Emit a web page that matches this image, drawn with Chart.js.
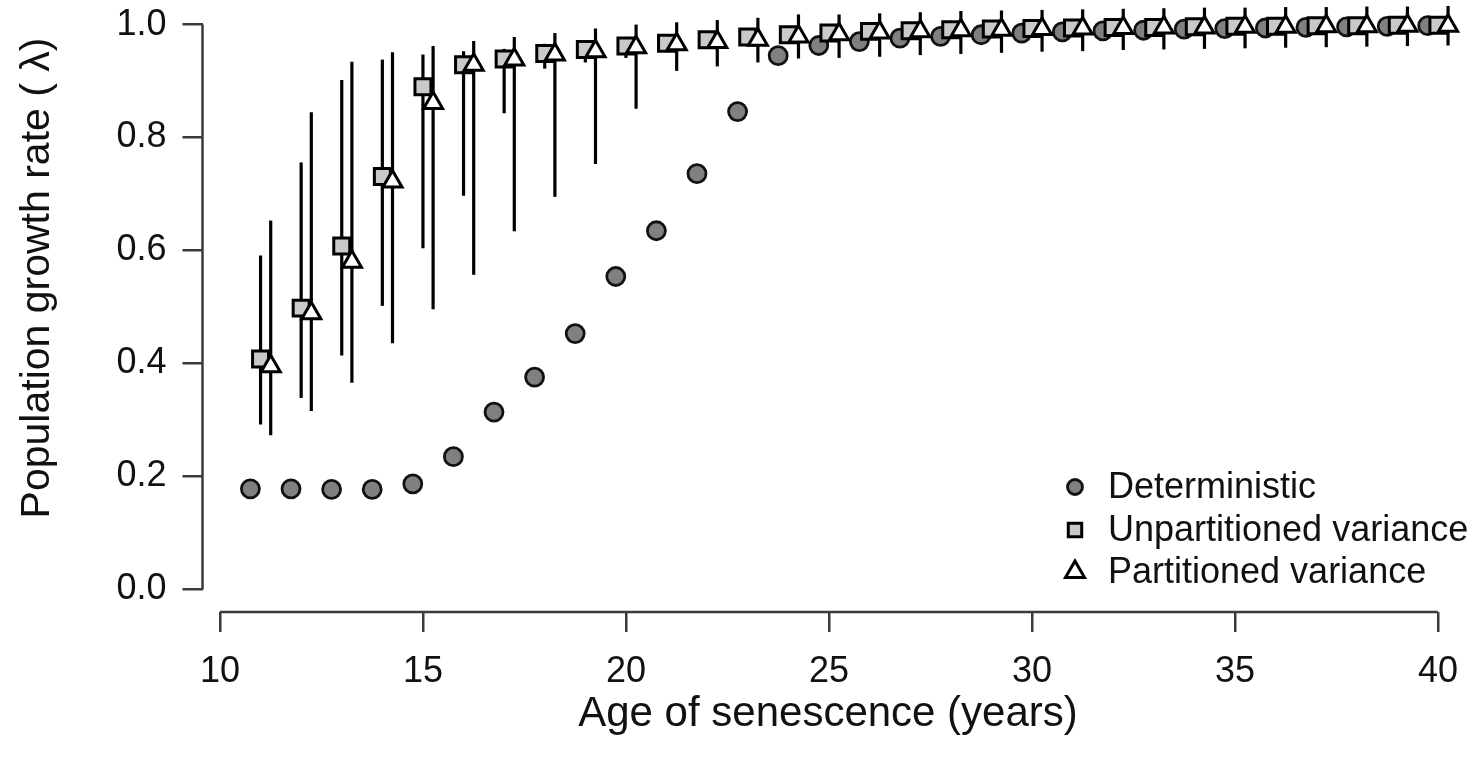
<!DOCTYPE html>
<html>
<head>
<meta charset="utf-8">
<script src="https://cdn.jsdelivr.net/npm/chart.js@4.4.1/dist/chart.umd.min.js"></script>
<style>
  html, body { margin: 0; padding: 0; background: #fff; }
  #wrap { width: 1472px; height: 759px; }
</style>
</head>
<body>
<div id="wrap"><canvas id="chart" width="1472" height="759"></canvas></div>
<script>
// age of senescence (years)
const ages = [11, 12, 13, 14, 15, 16, 17, 18, 19, 20, 21, 22, 23, 24, 25,
  26, 27, 28, 29, 30, 31, 32, 33, 34, 35, 36, 37, 38, 39, 40];

const deterministic = [0.178, 0.178, 0.177, 0.177, 0.187, 0.235, 0.314, 0.376, 0.453, 0.554,
  0.635, 0.736, 0.846, 0.945, 0.963, 0.970, 0.976, 0.979, 0.982, 0.985,
  0.987, 0.989, 0.990, 0.992, 0.993, 0.994, 0.995, 0.996, 0.997, 0.998];

const unpartitioned = [0.408, 0.498, 0.608, 0.731, 0.890, 0.929, 0.939, 0.949, 0.956, 0.962,
  0.967, 0.973, 0.978, 0.982, 0.985, 0.988, 0.989, 0.991, 0.992, 0.993,
  0.994, 0.995, 0.995, 0.996, 0.997, 0.997, 0.998, 0.998, 0.999, 0.999];
const unpartLow = [0.292, 0.339, 0.414, 0.502, 0.604, 0.697, 0.843, 0.922, 0.933, 0.941,
  0.957, 0.963, 0.968, 0.972, 0.975, 0.978, 0.979, 0.981, 0.982, 0.983,
  0.984, 0.985, 0.985, 0.986, 0.987, 0.987, 0.988, 0.988, 0.989, 0.989];
const unpartHigh = [0.591, 0.756, 0.902, 0.938, 0.947, 0.953, 0.957, 0.966, 0.968, 0.972,
  0.977, 0.983, 0.988, 0.992, 0.995, 0.998, 0.999, 1.001, 1.002, 1.003,
  1.004, 1.005, 1.005, 1.006, 1.007, 1.007, 1.008, 1.008, 1.009, 1.009];

const partitioned = [0.395, 0.489, 0.580, 0.722, 0.861, 0.929, 0.938, 0.947, 0.953, 0.960,
  0.965, 0.969, 0.973, 0.979, 0.983, 0.986, 0.988, 0.990, 0.991, 0.992,
  0.993, 0.994, 0.995, 0.995, 0.996, 0.996, 0.997, 0.997, 0.998, 0.998];
const partLow = [0.273, 0.316, 0.366, 0.436, 0.496, 0.557, 0.634, 0.695, 0.753, 0.851,
  0.918, 0.926, 0.933, 0.940, 0.941, 0.943, 0.946, 0.948, 0.950, 0.952,
  0.953, 0.955, 0.956, 0.957, 0.958, 0.959, 0.960, 0.961, 0.962, 0.963];
const partHigh = [0.653, 0.845, 0.934, 0.951, 0.962, 0.971, 0.978, 0.985, 0.993, 1.000,
  1.004, 1.008, 1.012, 1.018, 1.018, 1.020, 1.022, 1.024, 1.025, 1.026,
  1.027, 1.028, 1.029, 1.030, 1.030, 1.031, 1.031, 1.032, 1.032, 1.033];

const xTicks = [10, 15, 20, 25, 30, 35, 40];
const yTicks = [0, 0.2, 0.4, 0.6, 0.8, 1.0];
const seriesNames = ['Deterministic', 'Unpartitioned variance', 'Partitioned variance'];
const xTitle = 'Age of senescence (years)';
const yTitle = 'Population growth rate ( λ)';

const FONT = "'Liberation Sans', Arial, Helvetica, sans-serif";
const AXIS = '#3a3a3a';

// points are dodged sideways so the three series don't sit on top of each other
function pts(vals, shift) {
  return ages.map((a, i) => ({ x: a + shift, y: vals[i] }));
}

// chart.js reserves room for edge labels, R does not
function noEdgePadding(s) {
  s.paddingTop = 0;
  s.paddingBottom = 0;
  s.paddingLeft = 0;
  s.paddingRight = 0;
}

const errorBars = {
  id: 'errorBars',
  beforeDatasetsDraw(chart) {
    const { ctx, scales: { x, y } } = chart;
    ctx.save();
    ctx.strokeStyle = '#000';
    ctx.lineWidth = 3.2;
    chart.data.datasets.forEach(ds => {
      if (!ds.low) return;
      ds.data.forEach((p, i) => {
        const px = x.getPixelForValue(p.x);
        ctx.beginPath();
        ctx.moveTo(px, y.getPixelForValue(ds.low[i]));
        ctx.lineTo(px, y.getPixelForValue(ds.high[i]));
        ctx.stroke();
      });
    });
    ctx.restore();
  }
};

const decorations = {
  id: 'decorations',
  afterDraw(chart) {
    const { ctx, chartArea, scales: { x, y } } = chart;
    ctx.save();
    // R style axis lines, only between first and last tick
    ctx.strokeStyle = AXIS;
    ctx.lineWidth = 2.5;
    ctx.beginPath();
    ctx.moveTo(x.getPixelForValue(xTicks[0]), chartArea.bottom);
    ctx.lineTo(x.getPixelForValue(xTicks[xTicks.length - 1]), chartArea.bottom);
    ctx.moveTo(chartArea.left, y.getPixelForValue(yTicks[0]));
    ctx.lineTo(chartArea.left, y.getPixelForValue(yTicks[yTicks.length - 1]));
    ctx.stroke();

    // axis titles
    ctx.fillStyle = '#111';
    ctx.font = '42px ' + FONT;
    ctx.textAlign = 'center';
    ctx.textBaseline = 'middle';
    ctx.fillText(xTitle, 828, 714);
    ctx.font = '41px ' + FONT;
    ctx.translate(38, 278);
    ctx.rotate(-Math.PI / 2);
    ctx.fillText(yTitle, 0, 0);
    ctx.setTransform(1, 0, 0, 1, 0, 0);

    // legend
    const rows = [487, 530, 572];
    const sizes = [7.5, 9.5, 11];
    const order = [2, 1, 0];
    ctx.font = '36px ' + FONT;
    ctx.textAlign = 'left';
    seriesNames.forEach((name, i) => {
      const ds = chart.data.datasets[order[i]];
      ctx.fillStyle = ds.backgroundColor;
      ctx.strokeStyle = ds.borderColor;
      ctx.lineWidth = ds.borderWidth;
      Chart.helpers.drawPoint(ctx, {
        pointStyle: ds.pointStyle, radius: sizes[i], rotation: 0, borderWidth: ds.borderWidth
      }, 1075, rows[i]);
      ctx.fillStyle = '#111';
      ctx.fillText(name, 1108, rows[i] + 1);
    });
    ctx.restore();
  }
};

new Chart(document.getElementById('chart'), {
  type: 'scatter',
  data: {
    datasets: [
      {
        label: seriesNames[2],
        data: pts(partitioned, 0.25),
        low: partLow,
        high: partHigh,
        pointStyle: 'triangle',
        pointRadius: 11,
        backgroundColor: '#ffffff',
        borderColor: '#000000',
        borderWidth: 3,
        order: 0
      },
      {
        label: seriesNames[1],
        data: pts(unpartitioned, 0),
        low: unpartLow,
        high: unpartHigh,
        pointStyle: 'rect',
        pointRadius: 11.3,
        backgroundColor: '#c9c9c9',
        borderColor: '#000000',
        borderWidth: 3,
        order: 1
      },
      {
        label: seriesNames[0],
        data: pts(deterministic, -0.25),
        pointStyle: 'circle',
        pointRadius: 9,
        backgroundColor: '#808080',
        borderColor: '#111111',
        borderWidth: 2.8,
        order: 2
      }
    ]
  },
  options: {
    responsive: false,
    animation: false,
    devicePixelRatio: 1,
    layout: { autoPadding: false, padding: { top: 2, right: 0, bottom: 0, left: 0 } },
    plugins: {
      legend: { display: false },
      tooltip: { enabled: false }
    },
    scales: {
      x: {
        type: 'linear',
        min: 9.57,
        max: 40.84,
        afterBuildTicks: s => { s.ticks = xTicks.map(v => ({ value: v })); },
        afterFit: s => { s.height = 147; noEdgePadding(s); },
        grid: { drawOnChartArea: false, tickLength: 20, color: AXIS, lineWidth: 2.5 },
        border: { display: false },
        ticks: { font: { size: 36, family: FONT }, color: '#111', padding: 18, maxRotation: 0 }
      },
      y: {
        type: 'linear',
        min: -0.04,
        max: 1.04,
        afterBuildTicks: s => { s.ticks = yTicks.map(v => ({ value: v })); },
        afterFit: s => { s.width = 202.5; noEdgePadding(s); },
        grid: { drawOnChartArea: false, tickLength: 20, color: AXIS, lineWidth: 2.5 },
        border: { display: false },
        ticks: {
          font: { size: 36, family: FONT }, color: '#111', padding: 16,
          callback: v => v.toFixed(1)
        }
      }
    }
  },
  plugins: [errorBars, decorations]
});
</script>
</body>
</html>
